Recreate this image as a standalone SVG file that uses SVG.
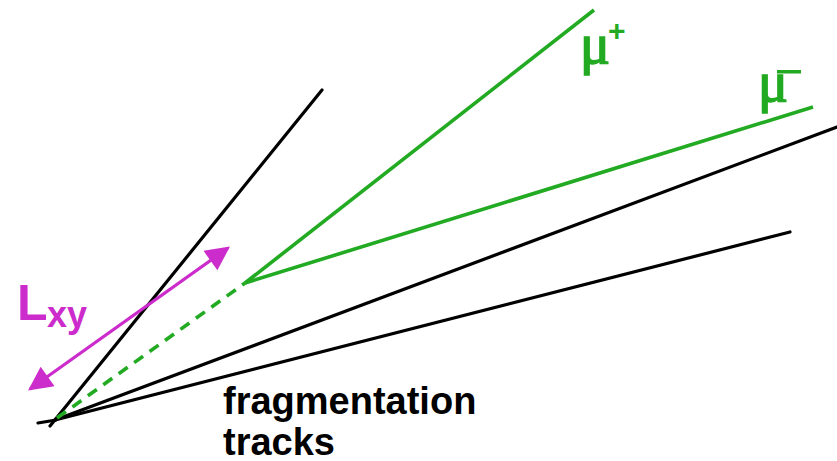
<svg xmlns="http://www.w3.org/2000/svg" width="837" height="461" viewBox="0 0 837 461">
<style>
.trk{stroke:#000;stroke-width:3.2;fill:none;stroke-linecap:round}
.mu{stroke:#22aa22;stroke-width:3.6;fill:none}
.lbl{font-family:"Liberation Sans",Arial,sans-serif;font-weight:bold}
.gr{fill:#22aa22}
.mug{font-family:"Liberation Serif","DejaVu Serif",serif;font-size:56px;stroke:#22aa22;stroke-width:1.6}
</style>
<defs>
<marker id="ah" viewBox="0 0 10 10" refX="9" refY="5" markerWidth="9" markerHeight="7.5" orient="auto-start-reverse" markerUnits="strokeWidth">
<path d="M0,0 L10,5 L0,10 z" fill="#cc2ccc"/>
</marker>
</defs>
<rect width="837" height="461" fill="#fff"/>
<g id="connectors">
<line class="trk" x1="38" y1="423" x2="56" y2="420"/>
<line class="trk" x1="50" y1="426" x2="322" y2="90"/>
<line class="trk" x1="55" y1="420" x2="837" y2="127"/>
<line class="trk" x1="55" y1="420" x2="790" y2="232"/>
<line class="mu" x1="57" y1="418" x2="245" y2="283" stroke-dasharray="11,8"/>
<line class="mu" x1="245" y1="283" x2="594" y2="10"/>
<line class="mu" x1="245" y1="283" x2="813" y2="107"/>
<line x1="30" y1="389" x2="228" y2="248" stroke="#cc2ccc" stroke-width="3.2" marker-start="url(#ah)" marker-end="url(#ah)"/>
</g>
<g id="lxy" fill="#cc2ccc" class="lbl">
<text x="17" y="320" font-size="50">L</text>
<text x="47" y="327" font-size="36">xy</text>
</g>
<g id="muplus" class="gr">
<text x="580" y="63" class="mug">μ</text>
<text x="608" y="41" class="lbl" font-size="30">+</text>
</g>
<g id="muminus" class="gr">
<text x="758" y="101" class="mug">μ</text>
<rect x="777" y="70" width="24" height="3.5"/>
</g>
<g id="frag" class="lbl" fill="#000">
<text x="223" y="414" font-size="38">fragmentation</text>
<text x="223" y="455" font-size="38">tracks</text>
</g>
</svg>
